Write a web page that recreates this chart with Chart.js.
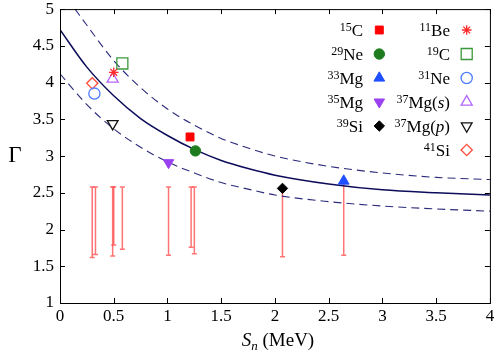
<!DOCTYPE html>
<html>
<head>
<meta charset="utf-8">
<script src="https://cdn.jsdelivr.net/npm/chart.js@4.4.0/dist/chart.umd.min.js"></script>
<style>
  html, body { margin: 0; padding: 0; background: #fff; }
  #wrap { width: 499px; height: 356px; }
</style>
</head>
<body>
<div id="wrap"><canvas id="gammaChart"></canvas></div>
<script>
// nuclei: one-neutron separation energy S_n (MeV) and Gamma
const massNums = ['15', '29', '33', '35', '39', '11', '19', '31', '37', '37', '41'];
const elements = ['C', 'Ne', 'Mg', 'Mg', 'Si', 'Be', 'C', 'Ne', 'Mg', 'Mg', 'Si'];
const states   = ['', '', '', '', '', '', '', '', 's', 'p', ''];
const snValues    = [1.21, 1.26, 2.64, 1.01, 2.07, 0.50, 0.58, 0.32, 0.49, 0.49, 0.30];
const gammaValues = [3.26, 3.07, 2.66, 2.91, 2.56, 4.14, 4.26, 3.85, 4.05, 3.44, 3.99];

// red bars (lower estimates)
const barSn   = [0.30, 0.33, 0.49, 0.50, 0.58, 1.01, 1.22, 1.25, 2.07, 2.64];
const barHigh = [2.58, 2.58, 2.58, 2.58, 2.58, 2.58, 2.58, 2.58, 2.56, 2.66];
const barLow  = [1.62, 1.66, 1.64, 1.79, 1.73, 1.65, 1.76, 1.67, 1.63, 1.65];

// systematics curve and its band
const curveSn    = [0, 0.25, 0.5, 0.75, 1, 1.25, 1.5, 1.75, 2, 2.5, 3, 3.5, 4];
const curveMid   = [4.72, 4.21, 3.82, 3.51, 3.28, 3.09, 2.94, 2.83, 2.74, 2.62, 2.54, 2.50, 2.47];
const curveLower = [4.12, 3.70, 3.37, 3.12, 2.92, 2.77, 2.64, 2.55, 2.47, 2.38, 2.32, 2.28, 2.25];
const upperSn    = [0.14, 0.25, 0.5, 0.75, 1, 1.25, 1.5, 1.75, 2, 2.5, 3, 3.5, 4];
const curveUpper = [5.00, 4.78, 4.30, 3.93, 3.64, 3.42, 3.24, 3.11, 3.00, 2.86, 2.77, 2.71, 2.68];

const xTicks = [0, 0.5, 1, 1.5, 2, 2.5, 3, 3.5, 4];
const yTicks = [1, 1.5, 2, 2.5, 3, 3.5, 4, 4.5, 5];

// marker look per nucleus
const markerStyle  = ['rect', 'circle', 'triangle', 'triangle', 'rectRot', 'star', 'rect', 'circle', 'triangle', 'triangle', 'rectRot'];
const markerRot    = [0, 0, 0, 180, 0, 0, 0, 0, 0, 180, 0];
const markerColor  = ['#ff0000', '#1e7b1e', '#1f4fff', '#9b40f0', '#000000', '#ff2a2a', '#3a983a', '#4a7bff', '#b366ff', '#111111', '#ff4a3a'];
const markerFilled = [true, true, true, true, true, false, false, false, false, false, false];
const markerSize   = [5.6, 5.2, 6.2, 6.0, 5.2, 4.8, 7.8, 5.6, 6.4, 6.2, 5.6];

const SERIF = "'Liberation Serif', 'DejaVu Serif', serif";
Chart.defaults.font.family = SERIF;

function pointOpts(i) {
    return {
        pointStyle: markerStyle[i],
        rotation: markerRot[i],
        radius: markerSize[i],
        borderWidth: markerFilled[i] ? 1 : 1.3
    };
}

const nucleusSets = snValues.map((sn, i) => ({
    label: massNums[i] + elements[i] + (states[i] ? '(' + states[i] + ')' : ''),
    data: [{ x: sn, y: gammaValues[i] }],
    pointStyle: markerStyle[i],
    rotation: markerRot[i],
    pointRadius: markerSize[i],
    pointBorderWidth: markerFilled[i] ? 1 : 1.3,
    pointBorderColor: markerColor[i],
    pointBackgroundColor: markerFilled[i] ? markerColor[i] : 'rgba(0,0,0,0)',
    showLine: false
}));

function curveSet(xs, ys, dashed) {
    return {
        data: xs.map((v, i) => ({ x: v, y: ys[i] })),
        showLine: true,
        borderColor: dashed ? '#2b2b7c' : '#0c0c5a',
        borderWidth: dashed ? 1.1 : 1.5,
        borderDash: dashed ? [8, 5] : [],
        pointRadius: 0,
        cubicInterpolationMode: 'monotone',
        fill: false
    };
}

// red vertical bars with caps
const errorBars = {
    id: 'errorBars',
    beforeDatasetsDraw(chart) {
        const { ctx, scales: { x, y } } = chart;
        ctx.save();
        ctx.strokeStyle = 'rgba(255, 70, 70, 0.75)';
        ctx.lineWidth = 1.5;
        barSn.forEach((sn, i) => {
            const px = x.getPixelForValue(sn);
            const top = y.getPixelForValue(barHigh[i]);
            const bot = y.getPixelForValue(barLow[i]);
            ctx.beginPath();
            ctx.moveTo(px, top); ctx.lineTo(px, bot);
            ctx.moveTo(px - 2.5, top); ctx.lineTo(px + 2.5, top);
            ctx.moveTo(px - 2.5, bot); ctx.lineTo(px + 2.5, bot);
            ctx.stroke();
        });
        ctx.restore();
    }
};

// box with inward ticks on all sides, axis titles, two-column key
const frame = {
    id: 'frame',
    afterDraw(chart) {
        const { ctx, chartArea: a, scales: { x, y } } = chart;
        ctx.save();
        ctx.strokeStyle = '#000';
        ctx.lineWidth = 1;
        ctx.strokeRect(a.left + 0.5, a.top + 0.5, a.right - a.left, a.bottom - a.top);
        ctx.beginPath();
        xTicks.forEach(v => {
            const px = Math.round(x.getPixelForValue(v)) + 0.5;
            ctx.moveTo(px, a.bottom); ctx.lineTo(px, a.bottom - 5);
            ctx.moveTo(px, a.top); ctx.lineTo(px, a.top + 5);
        });
        yTicks.forEach(v => {
            const py = Math.round(y.getPixelForValue(v)) + 0.5;
            ctx.moveTo(a.left, py); ctx.lineTo(a.left + 5, py);
            ctx.moveTo(a.right, py); ctx.lineTo(a.right - 5, py);
        });
        ctx.stroke();

        // axis titles
        ctx.fillStyle = '#000';
        ctx.textAlign = 'center';
        ctx.textBaseline = 'middle';
        ctx.font = `23px ${SERIF}`;
        ctx.fillText('\u0393', 15, (a.top + a.bottom) / 2);

        const parts = [
            { t: 'S', font: `italic 19px ${SERIF}`, dy: 0 },
            { t: 'n', font: `italic 13px ${SERIF}`, dy: 4 },
            { t: ' (MeV)', font: `19px ${SERIF}`, dy: 0 }
        ];
        drawParts(ctx, parts, (a.left + a.right) / 2 + 3, 346, 'center');

        // key
        snValues.forEach((sn, i) => {
            const col = i < 5 ? 0 : 1;
            const row = i < 5 ? i : i - 5;
            const mx = col ? 466.7 : 379.3;
            const my = 30 + 24 * row;
            const textParts = [
                { t: massNums[i], font: `12px ${SERIF}`, dy: -5 },
                { t: elements[i], font: `17px ${SERIF}`, dy: 0 }
            ];
            if (states[i]) {
                textParts.push({ t: '(', font: `17px ${SERIF}`, dy: 0 });
                textParts.push({ t: states[i], font: `italic 17px ${SERIF}`, dy: 0 });
                textParts.push({ t: ')', font: `17px ${SERIF}`, dy: 0 });
            }
            drawParts(ctx, textParts, col ? 450 : 363, my + 5.5, 'right');

            ctx.fillStyle = markerFilled[i] ? markerColor[i] : 'rgba(0,0,0,0)';
            ctx.strokeStyle = markerColor[i];
            ctx.lineWidth = markerFilled[i] ? 1 : 1.3;
            Chart.helpers.drawPoint(ctx, pointOpts(i), mx, my);
        });
        ctx.restore();
    }
};

function drawParts(ctx, parts, anchorX, baseline, align) {
    ctx.textAlign = 'left';
    ctx.textBaseline = 'alphabetic';
    let total = 0;
    parts.forEach(p => { ctx.font = p.font; p.w = ctx.measureText(p.t).width; total += p.w; });
    let cx = align === 'right' ? anchorX - total : anchorX - total / 2;
    ctx.fillStyle = '#000';
    parts.forEach(p => {
        ctx.font = p.font;
        ctx.fillText(p.t, cx, baseline + p.dy);
        cx += p.w;
    });
}

const tickFont = { family: SERIF, size: 17 };

new Chart(document.getElementById('gammaChart'), {
    type: 'scatter',
    data: {
        datasets: [
            ...nucleusSets,
            curveSet(curveSn, curveMid, false),
            curveSet(upperSn, curveUpper, true),
            curveSet(curveSn, curveLower, true)
        ]
    },
    options: {
        responsive: true,
        maintainAspectRatio: false,
        animation: false,
        layout: { padding: { left: 0, right: 7, top: 9, bottom: 0 } },
        plugins: {
            legend: { display: false },
            tooltip: { enabled: false }
        },
        scales: {
            x: {
                type: 'linear',
                min: 0,
                max: 4,
                afterBuildTicks: s => { s.ticks = xTicks.map(v => ({ value: v })); },
                afterFit: s => { s.height = 53; s.paddingLeft = 0; s.paddingRight = 0; },
                grid: { display: false, drawTicks: false },
                border: { display: false },
                ticks: { font: tickFont, color: '#000', padding: 3, maxRotation: 0, callback: v => String(v) }
            },
            y: {
                type: 'linear',
                min: 1,
                max: 5,
                afterBuildTicks: s => { s.ticks = yTicks.map(v => ({ value: v })); },
                afterFit: s => { s.width = 60; s.paddingTop = 0; s.paddingBottom = 0; },
                grid: { display: false, drawTicks: false },
                border: { display: false },
                ticks: { font: tickFont, color: '#000', padding: 6, callback: v => String(v) }
            }
        }
    },
    plugins: [errorBars, frame]
});
</script>
</body>
</html>
